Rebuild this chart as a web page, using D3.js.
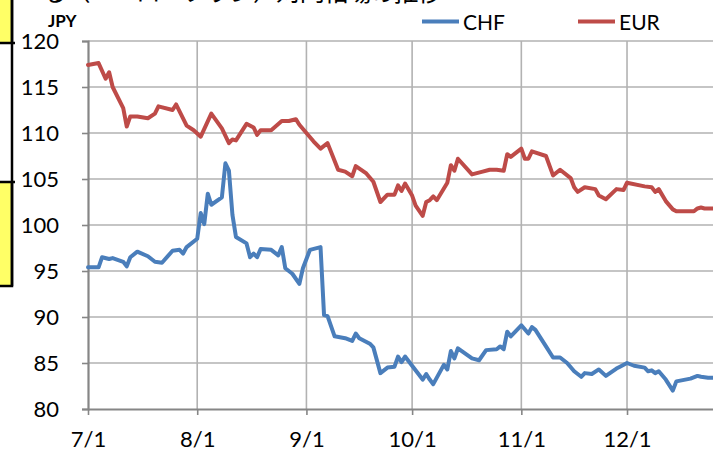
<!DOCTYPE html>
<html><head><meta charset="utf-8">
<script src="https://cdn.jsdelivr.net/npm/d3@7"></script>
<style>
html,body{margin:0;padding:0;background:#fff;}
svg{display:block;}
</style>
</head><body>
<svg id="chart" width="713" height="452"></svg>
<script>
// ---- data ----
const titleText = "る（ユーロ・フラン）対円相場の推移";
const yTicks = [80, 85, 90, 95, 100, 105, 110, 115, 120];
const monthTicks = ["2011-07-01","2011-08-01","2011-09-01","2011-10-01","2011-11-01","2011-12-01"];
const seriesNames = ["CHF", "EUR"];
const chfSeries = [
 ["2011-07-01",95.4],["2011-07-04",95.4],["2011-07-05",96.5],["2011-07-07",96.3],["2011-07-08",96.4],
 ["2011-07-11",96.0],["2011-07-12",95.5],["2011-07-13",96.5],["2011-07-15",97.1],["2011-07-18",96.6],
 ["2011-07-20",96.0],["2011-07-22",95.9],["2011-07-25",97.2],["2011-07-27",97.3],["2011-07-28",96.9],
 ["2011-07-29",97.6],["2011-08-01",98.5],["2011-08-02",101.3],["2011-08-03",100.1],["2011-08-04",103.4],
 ["2011-08-05",102.2],["2011-08-08",103.0],["2011-08-09",106.7],["2011-08-10",105.9],["2011-08-11",101.1],
 ["2011-08-12",98.7],["2011-08-15",98.0],["2011-08-16",96.5],["2011-08-17",96.9],["2011-08-18",96.5],
 ["2011-08-19",97.4],["2011-08-22",97.3],["2011-08-24",96.7],["2011-08-25",97.6],["2011-08-26",95.3],
 ["2011-08-28",94.7],["2011-08-30",93.6],["2011-08-31",95.3],["2011-09-02",97.3],["2011-09-05",97.6],
 ["2011-09-06",90.2],["2011-09-07",90.1],["2011-09-09",87.9],["2011-09-12",87.7],["2011-09-14",87.4],
 ["2011-09-15",88.2],["2011-09-16",87.7],["2011-09-19",87.1],["2011-09-20",86.7],["2011-09-22",83.9],
 ["2011-09-24",84.5],["2011-09-26",84.6],["2011-09-27",85.7],["2011-09-28",85.1],["2011-09-29",85.7],
 ["2011-10-01",84.7],["2011-10-04",83.2],["2011-10-05",83.8],["2011-10-06",83.2],["2011-10-07",82.7],
 ["2011-10-10",84.8],["2011-10-11",84.3],["2011-10-12",86.3],["2011-10-13",85.5],["2011-10-14",86.6],
 ["2011-10-18",85.5],["2011-10-20",85.3],["2011-10-22",86.4],["2011-10-25",86.5],["2011-10-26",86.8],
 ["2011-10-27",86.5],["2011-10-28",88.4],["2011-10-29",87.9],["2011-11-01",89.1],["2011-11-03",88.2],
 ["2011-11-04",88.9],["2011-11-05",88.6],["2011-11-08",86.8],["2011-11-10",85.6],["2011-11-12",85.6],
 ["2011-11-14",85.0],["2011-11-16",84.1],["2011-11-18",83.5],["2011-11-19",83.9],["2011-11-21",83.8],
 ["2011-11-23",84.3],["2011-11-25",83.6],["2011-11-28",84.4],["2011-11-29",84.6],["2011-12-01",85.0],
 ["2011-12-03",84.7],["2011-12-06",84.5],["2011-12-07",84.1],["2011-12-08",84.2],["2011-12-09",83.9],
 ["2011-12-10",84.1],["2011-12-12",83.2],["2011-12-14",82.0],["2011-12-15",83.0],["2011-12-19",83.3],
 ["2011-12-21",83.6],["2011-12-22",83.5],["2011-12-24",83.4],["2011-12-26",83.4]
];
const eurSeries = [
 ["2011-07-01",117.4],["2011-07-04",117.6],["2011-07-06",115.9],["2011-07-07",116.6],["2011-07-08",115.0],
 ["2011-07-11",112.7],["2011-07-12",110.7],["2011-07-13",111.8],["2011-07-15",111.8],["2011-07-18",111.6],
 ["2011-07-20",112.1],["2011-07-21",112.9],["2011-07-25",112.5],["2011-07-26",113.1],["2011-07-29",110.8],
 ["2011-07-31",110.3],["2011-08-02",109.6],["2011-08-05",112.1],["2011-08-08",110.5],["2011-08-10",108.9],
 ["2011-08-11",109.3],["2011-08-12",109.2],["2011-08-15",111.0],["2011-08-17",110.6],["2011-08-18",109.8],
 ["2011-08-19",110.3],["2011-08-22",110.3],["2011-08-25",111.3],["2011-08-27",111.3],["2011-08-29",111.5],
 ["2011-08-30",110.9],["2011-09-01",110.0],["2011-09-03",109.1],["2011-09-05",108.3],["2011-09-07",108.9],
 ["2011-09-10",106.0],["2011-09-12",105.8],["2011-09-14",105.3],["2011-09-15",106.4],["2011-09-18",105.6],
 ["2011-09-20",104.7],["2011-09-22",102.5],["2011-09-24",103.3],["2011-09-26",103.3],["2011-09-27",104.3],
 ["2011-09-28",103.7],["2011-09-29",104.5],["2011-10-01",103.2],["2011-10-02",102.1],["2011-10-04",101.0],
 ["2011-10-05",102.5],["2011-10-06",102.7],["2011-10-07",103.1],["2011-10-08",102.7],["2011-10-11",104.6],
 ["2011-10-12",106.5],["2011-10-13",105.9],["2011-10-14",107.2],["2011-10-18",105.5],["2011-10-21",105.8],
 ["2011-10-23",106.0],["2011-10-25",106.0],["2011-10-27",105.9],["2011-10-28",107.7],["2011-10-29",107.4],
 ["2011-11-01",108.3],["2011-11-02",107.2],["2011-11-03",107.2],["2011-11-04",108.0],["2011-11-08",107.5],
 ["2011-11-10",105.4],["2011-11-12",106.0],["2011-11-15",105.1],["2011-11-16",104.1],["2011-11-17",103.6],
 ["2011-11-19",104.1],["2011-11-22",103.9],["2011-11-23",103.2],["2011-11-25",102.8],["2011-11-28",103.9],
 ["2011-11-30",103.8],["2011-12-01",104.6],["2011-12-06",104.2],["2011-12-08",104.1],["2011-12-09",103.6],
 ["2011-12-10",103.9],["2011-12-12",102.6],["2011-12-14",101.7],["2011-12-15",101.5],["2011-12-20",101.5],
 ["2011-12-21",101.8],["2011-12-22",101.9],["2011-12-23",101.8],["2011-12-26",101.8]
];
const colors = {CHF: "#4a7ebb", EUR: "#be4b48"};

// ---- drawing ----
(function () {
const svg = d3.select("#chart");
const parse = d3.timeParse("%Y-%m-%d");
const FONT = "Lato, 'Open Sans', sans-serif";

const pLeft = 88, pTop = 41, pBottom = 409;
const x = d3.scaleTime()
  .domain([parse("2011-07-01"), parse("2012-01-01")])
  .range([pLeft, pLeft + 184 * 3.523]);
const y = d3.scaleLinear().domain([80, 120]).range([pBottom, pTop]);

// title (cut off at top, as in the reference)
svg.append("text").attr("x", 42).attr("y", 1)
  .attr("font-family", "'Noto Sans CJK JP', sans-serif").attr("font-size", 25)
  .attr("textLength", 400).attr("lengthAdjust", "spacing")
  .attr("fill", "#000").text(titleText);

// gridlines
const grid = svg.append("g");
grid.selectAll("line.h").data(yTicks.filter(v => v > 80)).join("line")
  .attr("x1", pLeft).attr("x2", x(parse("2012-01-01")))
  .attr("y1", d => y(d)).attr("y2", d => y(d))
  .attr("stroke", "#b2b2b2").attr("stroke-width", 1.6);
grid.selectAll("line.v").data(monthTicks.slice(1)).join("line")
  .attr("x1", d => x(parse(d))).attr("x2", d => x(parse(d)))
  .attr("y1", pTop).attr("y2", pBottom)
  .attr("stroke", "#b2b2b2").attr("stroke-width", 1.6);

// axes
const yAxis = d3.axisLeft(y).tickValues(yTicks).tickSize(6).tickPadding(23).tickFormat(d3.format("d"));
const gy = svg.append("g").attr("transform", `translate(${pLeft},0)`).call(yAxis);
const xAxis = d3.axisBottom(x).tickValues(monthTicks.map(parse)).tickSize(6).tickPadding(16)
  .tickFormat(d3.timeFormat("%-m/%-d"));
const gx = svg.append("g").attr("transform", `translate(0,${pBottom})`).call(xAxis);
[gy, gx].forEach(g => {
  g.select(".domain").attr("stroke", "#868686").attr("stroke-width", 2.2);
  g.selectAll(".tick line").attr("stroke", "#868686").attr("stroke-width", 1.6);
  g.selectAll("text").attr("font-family", FONT).attr("font-size", 22).attr("fill", "#000");
});
gx.select(".domain").attr("d", `M${pLeft},0.5H713`);

// JPY unit label
svg.append("text").attr("x", 48).attr("y", 27)
  .attr("font-family", FONT).attr("font-weight", "bold").attr("font-size", 17)
  .attr("fill", "#000").text("JPY");

// lines
const line = d3.line().x(d => x(parse(d[0]))).y(d => y(d[1]));
[["EUR", eurSeries], ["CHF", chfSeries]].forEach(([name, data]) => {
  svg.append("path").datum(data).attr("d", line)
    .attr("fill", "none").attr("stroke", colors[name]).attr("stroke-width", 4)
    .attr("stroke-linejoin", "round").attr("stroke-linecap", "round");
});

// legend
const legendX = {CHF: 422, EUR: 578};
seriesNames.forEach(name => {
  const g = svg.append("g");
  g.append("line").attr("x1", legendX[name]).attr("x2", legendX[name] + 37)
    .attr("y1", 21.5).attr("y2", 21.5).attr("stroke", colors[name]).attr("stroke-width", 4);
  g.append("text").attr("x", legendX[name] + 41).attr("y", 30)
    .attr("font-family", FONT).attr("font-size", 21).attr("fill", "#000").text(name);
});

// yellow callout boxes at the left edge
svg.append("rect").attr("x", -3).attr("y", -3).attr("width", 15).attr("height", 46)
  .attr("fill", "#ffff66").attr("stroke", "#000").attr("stroke-width", 2.5);
svg.append("rect").attr("x", -3).attr("y", 182).attr("width", 15).attr("height", 104)
  .attr("fill", "#ffff66").attr("stroke", "#000").attr("stroke-width", 2.5);
svg.append("line").attr("x1", 12).attr("x2", 12).attr("y1", 0).attr("y2", 286)
  .attr("stroke", "#000").attr("stroke-width", 2.5);
svg.append("line").attr("x1", 12).attr("x2", 15).attr("y1", 43).attr("y2", 43)
  .attr("stroke", "#000").attr("stroke-width", 2.5);
svg.append("line").attr("x1", 12).attr("x2", 15).attr("y1", 182).attr("y2", 182)
  .attr("stroke", "#000").attr("stroke-width", 2.5);
})();
</script>
</body></html>
